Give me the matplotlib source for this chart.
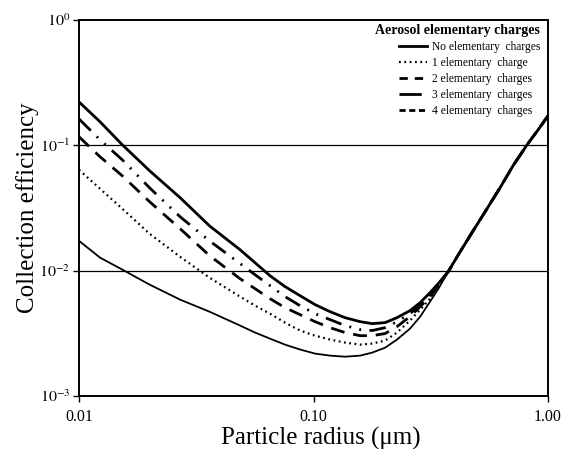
import numpy as np
import matplotlib
matplotlib.use("Agg")
import matplotlib.pyplot as plt
from matplotlib.lines import Line2D

plt.rcParams['font.family'] = ['Liberation Serif', 'DejaVu Serif']
plt.rcParams['mathtext.fontset'] = 'stix'

# particle radius (um)
radius = [0.010, 0.0123, 0.0153, 0.020, 0.027, 0.036, 0.0486, 0.0563, 0.0652,
          0.0756, 0.0876, 0.1015, 0.1176, 0.1362, 0.158, 0.178, 0.202, 0.227,
          0.258, 0.285, 0.314, 0.343,
          0.375, 0.417, 0.465, 0.539, 0.624, 0.709, 0.814, 0.907, 1.0]

# common rising tail (r >= 0.375 um) where all curves merge
tail = [0.0098, 0.01366, 0.019, 0.0295, 0.0458, 0.0687, 0.101, 0.1329, 0.172]

eff_0 = [0.0173, 0.0127, 0.0102, 0.00774, 0.00587, 0.00471, 0.00365, 0.00321,
         0.00287, 0.00257, 0.00235, 0.00218, 0.00210, 0.00206, 0.00210, 0.00222,
         0.00243, 0.00282, 0.00345, 0.00430, 0.00566, 0.00732] + tail
eff_1 = [0.0638, 0.0450, 0.0312, 0.0197, 0.0129, 0.0088, 0.00621, 0.00526,
         0.00454, 0.00385, 0.00333, 0.00303, 0.00282, 0.00267, 0.00257, 0.00262,
         0.00277, 0.00321, 0.00400, 0.00489, 0.00598, 0.0076] + tail
eff_2 = [0.117, 0.081, 0.0571, 0.0355, 0.0216, 0.0132, 0.00863, 0.00719,
         0.00598, 0.00507, 0.00446, 0.00392, 0.00351, 0.00321, 0.00303, 0.00303,
         0.00315, 0.00358, 0.00430, 0.00517, 0.00621, 0.00774] + tail
eff_3 = [0.1625, 0.1106, 0.0766, 0.0458, 0.0269, 0.0173, 0.0114, 0.00929,
         0.0076, 0.00621, 0.00526, 0.00454, 0.00407, 0.00365, 0.00339, 0.00333,
         0.00351, 0.00392, 0.00454, 0.00536, 0.00644, 0.00788] + tail
eff_4 = [0.222, 0.154, 0.101, 0.0627, 0.0382, 0.0228, 0.0147, 0.01158,
         0.00912, 0.00746, 0.00632, 0.00536, 0.00471, 0.00422, 0.00392, 0.00378,
         0.00385, 0.00422, 0.00480, 0.00556, 0.00668, 0.00802] + tail

labels = ['No elementary  charges', '1 elementary  charge', '2 elementary  charges',
          '3 elementary  charges', '4 elementary  charges']

fig = plt.figure(figsize=(5.63, 4.49), dpi=100)
ax = fig.add_axes([0.1403, 0.118, 0.8331, 0.8375])

# horizontal grid lines at 0.1 and 0.01
for yv in [1e-1, 1e-2]:
    ax.axhline(yv, color='black', lw=0.9, zorder=1)

ax.plot(radius, eff_0, color='black', lw=1.3, ls='-', zorder=3)
ax.plot(radius, eff_1, color='black', lw=1.6, ls=(0, (0.8, 1.6)), zorder=3)
ax.plot(radius, eff_2, color='black', lw=2.0, ls=(0, (5, 3.2)), zorder=3)
ax.plot(radius, eff_3, color='black', lw=2.0, ls=(0, (6, 3, 0.7, 3, 0.7, 3)), zorder=3)
ax.plot(radius, eff_4, color='black', lw=2.0, ls='-', zorder=3)

ax.set_xscale('log')
ax.set_yscale('log')
ax.set_xlim(0.01, 1.0)
ax.set_ylim(1e-3, 1.0)

ax.set_xticks([0.01, 0.1, 1.0])
ax.set_xticklabels(['0.01', '0.10', '1.00'])
ax.set_yticks([1e-3, 1e-2, 1e-1, 1.0])
ax.set_yticklabels([r'$10^{-3}$', r'$10^{-2}$', r'$10^{-1}$', r'$10^{0}$'])
ax.minorticks_off()
ax.tick_params(axis='both', direction='out', length=4, width=1, labelsize=11.5,
               color='black', pad=2)
ax.tick_params(axis='x', pad=5)

for s in ax.spines.values():
    s.set_linewidth(1.4)
    s.set_color('black')

ax.set_xlabel('Particle radius (μm)', fontsize=18)
ax.xaxis.set_label_coords(0.516, -0.082)
ax.set_ylabel('Collection efficiency', fontsize=18, labelpad=0)

handles = [
    Line2D([], [], color='black', lw=2.0, ls='-'),
    Line2D([], [], color='black', lw=1.6, ls=(0, (0.8, 1.6))),
    Line2D([], [], color='black', lw=2.0, ls=(0, (3, 2.5))),
    Line2D([], [], color='black', lw=2.0, ls=(0, (8, 3, 0.7, 3))),
    Line2D([], [], color='black', lw=2.0, ls=(0, (2.2, 1.3))),
]
leg = ax.legend(handles, labels, loc='upper right', bbox_to_anchor=(0.988, 0.995),
                frameon=False, fontsize=8.3, handlelength=2.4, handletextpad=0.45,
                labelspacing=0.33, borderaxespad=0, borderpad=0.2,
                title='Aerosol elementary charges', alignment='right',
                title_fontproperties={'weight': 'bold', 'size': 10})
leg._legend_box.sep = 3

fig.savefig('out.png', dpi=100)
